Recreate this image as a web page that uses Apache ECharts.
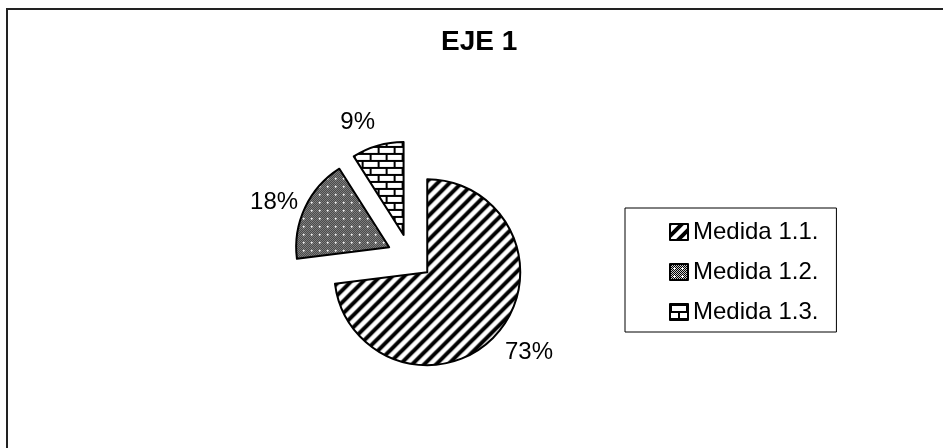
<!DOCTYPE html>
<html>
<head>
<meta charset="utf-8">
<script src="https://cdn.jsdelivr.net/npm/echarts@6/dist/echarts.min.js"></script>
<style>
  html, body { margin: 0; padding: 0; background: #fff; }
  #chart { width: 943px; height: 448px; }
</style>
</head>
<body>
<div id="chart"></div>
<script>
var titleText = "EJE 1";
var categories = ["Medida 1.1.", "Medida 1.2.", "Medida 1.3."];
var values = [73, 18, 9];

// small nudges so the % labels sit where the office chart put them
var labelNudge = [[8, -2], [-2, 8], [-11, 7]];

// hatch fills drawn on small canvases
function stripes() {
  var c = document.createElement("canvas");
  c.width = 12; c.height = 12;
  var g = c.getContext("2d");
  g.fillStyle = "#fff"; g.fillRect(0, 0, 12, 12);
  g.strokeStyle = "#000"; g.lineWidth = 4;
  g.beginPath();
  g.moveTo(-2, 14); g.lineTo(14, -2);
  g.moveTo(-2, 2); g.lineTo(2, -2);
  g.moveTo(10, 14); g.lineTo(14, 10);
  g.stroke();
  return { image: c, repeat: "repeat" };
}

function dots() {
  var c = document.createElement("canvas");
  c.width = 8; c.height = 8;
  var g = c.getContext("2d");
  g.fillStyle = "#c8c8c8"; g.fillRect(0, 0, 8, 8);
  g.fillStyle = "#000";
  for (var i = 0; i < 8; i++) {
    for (var j = 0; j < 8; j++) {
      if ((i + j) % 2 === 0) g.fillRect(i, j, 1, 1);
    }
  }
  g.fillStyle = "#fff";
  g.fillRect(3, 4, 3, 1);
  g.fillRect(4, 3, 1, 3);
  return { image: c, repeat: "repeat" };
}

function bricks() {
  var c = document.createElement("canvas");
  c.width = 16; c.height = 14;
  var g = c.getContext("2d");
  g.fillStyle = "#fff"; g.fillRect(0, 0, 16, 14);
  g.fillStyle = "#000";
  g.fillRect(0, 0, 16, 2);
  g.fillRect(0, 7, 16, 2);
  g.fillRect(0, 0, 2, 8);
  g.fillRect(8, 7, 2, 7);
  return { image: c, repeat: "repeat" };
}

var fills = [stripes(), dots(), bricks()];

(function() {
  var myChart = echarts.init(document.getElementById("chart"));

  var pieData = categories.map(function(name, i) {
    return {
      name: name,
      value: values[i],
      selected: true,
      itemStyle: { color: fills[i] }
    };
  });

  var option = {
    animation: false,
    backgroundColor: "#fff",
    title: {
      text: titleText,
      left: 441,
      top: 28,
      padding: 0,
      textStyle: {
        fontFamily: "Liberation Sans, Arial",
        fontSize: 28,
        fontWeight: "bold",
        color: "#000"
      }
    },
    legend: {
      orient: "vertical",
      left: 625,
      top: 208,
      padding: [12, 18, 8, 44],
      itemGap: 16,
      itemWidth: 18,
      itemHeight: 16,
      icon: "rect",
      borderColor: "#000",
      borderWidth: 1,
      selectedMode: false,
      textStyle: {
        fontFamily: "Liberation Sans, Arial",
        fontSize: 24,
        color: "#000"
      }
    },
    graphic: [
      {
        type: "rect",
        shape: { x: 7, y: 9, width: 1000, height: 500 },
        style: { fill: null, stroke: "#222", lineWidth: 2 },
        silent: true
      }
    ],
    series: [
      {
        type: "pie",
        center: [410, 257],
        radius: 93,
        startAngle: 90,
        clockwise: true,
        selectedMode: "multiple",
        selectedOffset: 23,
        avoidLabelOverlap: false,
        itemStyle: {
          borderColor: "#000",
          borderWidth: 2
        },
        select: {
          itemStyle: { borderColor: "#000", borderWidth: 2 }
        },
        emphasis: { disabled: true },
        label: {
          show: true,
          position: "outside",
          formatter: "{c}%",
          distanceToLabelLine: 0,
          fontFamily: "Liberation Sans, Arial",
          fontSize: 24,
          color: "#000"
        },
        labelLine: {
          show: false,
          length: 32,
          length2: 0
        },
        labelLayout: function(p) {
          var n = labelNudge[p.dataIndex];
          return { align: "center", dx: n[0], dy: n[1] };
        },
        data: pieData
      }
    ]
  };

  myChart.setOption(option);
  window.addEventListener("resize", function() {
    myChart.resize();
  });
})();
</script>
</body>
</html>
